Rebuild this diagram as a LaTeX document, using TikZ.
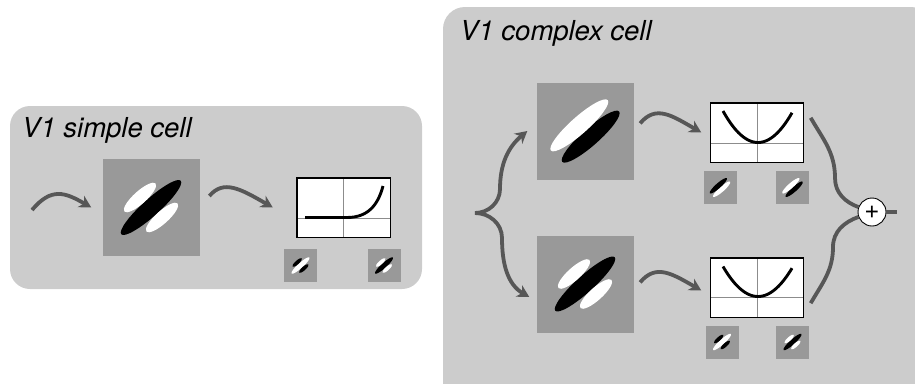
\documentclass[tikz,border=0pt]{standalone}
\usepackage{fontspec}
\setmainfont{TeX Gyre Heros}
\usetikzlibrary{arrows.meta,calc}

\definecolor{panel}{HTML}{CCCCCC}
\definecolor{filtgray}{HTML}{999999}
\definecolor{wire}{HTML}{575757}
\definecolor{gridc}{HTML}{8C8C8C}

\tikzset{
  panelbox/.style={fill=panel, draw=none, rounded corners=20pt, inner sep=0},
  filt/.style={fill=filtgray, draw=none, minimum size=97pt, inner sep=0},
  mini/.style={fill=filtgray, draw=none, minimum size=33pt, inner sep=0},
  plotbox/.style={fill=white, draw=none, minimum width=93pt, minimum height=59pt, inner sep=0},
  plotframe/.style={draw=black, line width=1.4pt},
  gridline/.style={draw=gridc, line width=1pt},
  tuning/.style={draw=black, line width=2.9pt},
  conn/.style={draw=wire, line width=3.8pt},
  arr/.style={conn, -{Stealth[length=12pt,width=13pt]}},
  title/.style={font=\itshape\fontsize{27.5}{31}\selectfont, anchor=base west, inner sep=0},
  % even-symmetric receptive field: centre bar with two flanks
  pics/evenf/.style n args={3}{code={
    \begin{scope}[scale=#1, rotate=42]
      \fill[#2] (0,0) ellipse [x radius=40pt, y radius=8.5pt];
      \fill[#3] (-1.5,-14.8) ellipse [x radius=21pt, y radius=6.3pt];
      \fill[#3] (1.5,14.8) ellipse [x radius=21pt, y radius=6.3pt];
    \end{scope}}},
  % odd-symmetric receptive field: two adjacent bars
  pics/oddf/.style n args={3}{code={
    \begin{scope}[scale=#1, rotate=41.6]
      \fill[#2] (0.5,8) ellipse [x radius=38pt, y radius=8.5pt];
      \fill[#3] (-0.5,-8) ellipse [x radius=38pt, y radius=8.5pt];
    \end{scope}}}
}

\begin{document}
\begin{tikzpicture}[x=1pt, y=-1pt]
\useasboundingbox (0,0) rectangle (915,383);
\clip (0,0) rectangle (915,383);

% ---------------- simple cell ----------------
\node[panelbox, minimum width=412pt, minimum height=183pt] (simplepanel) at (216,197.5) {};
\node[title] (simpletitle) at (22,137) {V1 simple cell};

\node[filt] (f1) at (151,207.5) {};
\pic at (f1.center) {evenf={1}{black}{white}};

\node[plotbox] (p1) at (343.5,207.5) {};
\draw[gridline] (p1.north) -- (p1.south);
\draw[gridline] (p1.west |- 0,218) -- (p1.east |- 0,218);
\draw[tuning] (305,217.5) -- (347,217.5) .. controls (368,217.5) and (378,205) .. (383,186);
\draw[plotframe] (p1.north west) rectangle (p1.south east);

\node[mini] (m1) at (300.5,265.5) {};
\pic at (m1.center) {evenf={0.3}{white}{black}};
\node[mini] (m2) at (384,265.5) {};
\pic at (m2.center) {evenf={0.3}{black}{white}};

\coordinate (in1) at (32,210);
\draw[arr] (in1) to[out=50,in=150,looseness=1.3] ([xshift=-11pt]f1.west);
\draw[arr, shorten <=15pt] (f1.east) to[out=50,in=150,looseness=1.3] ([xshift=-24pt]p1.west);

% ---------------- complex cell ----------------
\node[panelbox, rounded corners=22pt, minimum width=490pt, minimum height=400pt] (complexpanel) at (688,207) {};
\node[title] (complextitle) at (460,40) {V1 complex cell};

\node[filt] (ftop) at (585,131) {};
\pic at (ftop.center) {oddf={1}{black}{white}};
\node[filt] (fbot) at (585,284) {};
\pic at (fbot.center) {evenf={1}{black}{white}};

\node[plotbox] (ptop) at (757,132.5) {};
\draw[gridline] (ptop.north) -- (ptop.south);
\draw[gridline] (ptop.west |- 0,143) -- (ptop.east |- 0,143);
\draw[tuning] plot[domain=-35:34, samples=41] ({758+\x},{142.5-31.5*(\x/35)*(\x/35)});
\draw[plotframe] (ptop.north west) rectangle (ptop.south east);

\node[plotbox] (pbot) at (757,287.5) {};
\draw[gridline] (pbot.north) -- (pbot.south);
\draw[gridline] (pbot.west |- 0,297) -- (pbot.east |- 0,297);
\draw[tuning] plot[domain=-35:34, samples=41] ({758+\x},{296.5-30*(\x/35)*(\x/35)});
\draw[plotframe] (pbot.north west) rectangle (pbot.south east);

\node[mini] (m3) at (720,187.5) {};
\pic at (m3.center) {oddf={0.3}{white}{black}};
\node[mini] (m4) at (792.5,187.5) {};
\pic at (m4.center) {oddf={0.3}{black}{white}};
\node[mini] (m5) at (722,342) {};
\pic at (m5.center) {evenf={0.3}{white}{black}};
\node[mini] (m6) at (792.5,342) {};
\pic at (m6.center) {evenf={0.3}{black}{white}};

% input brace splitting into the two subunits
\coordinate (brace) at (475,213);
\coordinate (bracetop) at (500,189);
\coordinate (bracebot) at (502,238);
\coordinate (fbotin) at ($(fbot.west)+(0,13)$);
\draw[arr] (brace) to[out=0,in=-90] (bracetop) to[out=90,in=220] ([xshift=-9pt]ftop.west);
\draw[arr] (brace) to[out=0,in=90] (bracebot) to[out=-90,in=150] ([xshift=-7pt]fbotin);

\draw[arr, shorten <=10pt] (ftop.east) to[out=50,in=150,looseness=1.3] ([xshift=-9pt]ptop.west);
\draw[arr, shorten <=10pt] ([yshift=-6pt]fbot.east) to[out=50,in=150,looseness=1.3] ([xshift=-9pt,yshift=-3pt]pbot.west);

% summation of the squared outputs
\node[circle, draw=black, fill=white, line width=0.9pt, minimum size=28pt, inner sep=0,
      font=\fontsize{26}{26}\selectfont] (sum) at (872,212) {+};
\coordinate (toparcstart) at ($(ptop.north east)+(7,15)$);
\coordinate (toparcmid) at (835,178);
\coordinate (botarcstart) at ($(pbot.south east)+(7,-14)$);
\coordinate (botarcmid) at (833,247);
\draw[conn] (toparcstart) to[out=-60,in=90] (toparcmid) to[out=-90,in=160] (sum);
\draw[conn] (botarcstart) to[out=60,in=-90] (botarcmid) to[out=90,in=200] (sum);
\coordinate (outend) at (897,212);
\draw[conn, line width=4.5pt] (sum.east) -- (outend);
\end{tikzpicture}
\end{document}
